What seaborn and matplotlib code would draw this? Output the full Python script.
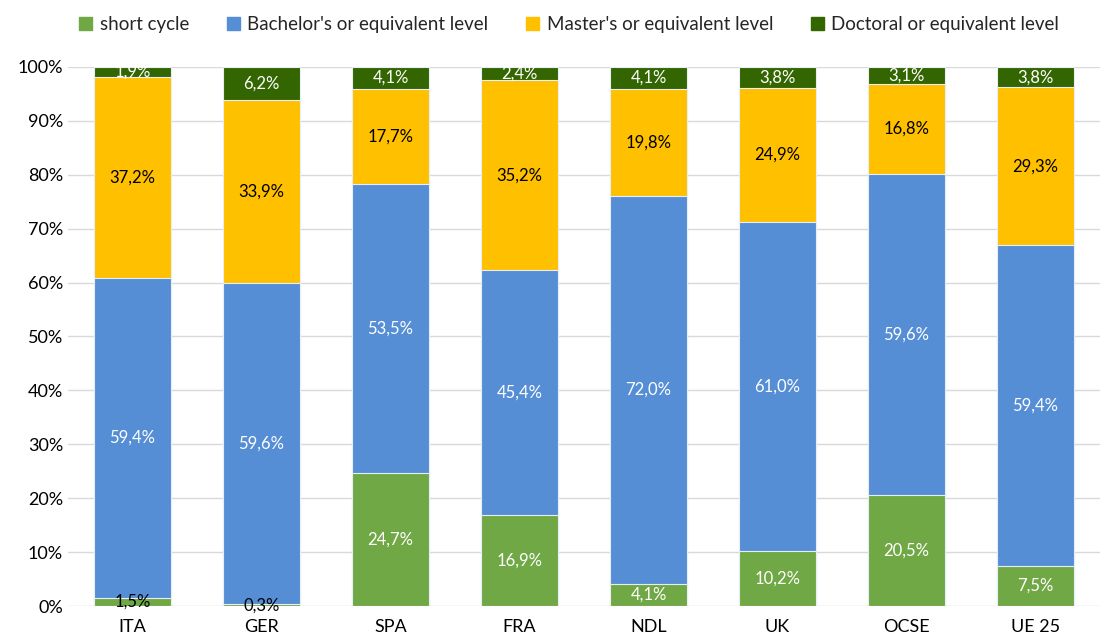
import numpy as np
import pandas as pd
import matplotlib
matplotlib.use("Agg")
import matplotlib.pyplot as plt
import seaborn as sns

countries = ["ITA", "GER", "SPA", "FRA", "NDL", "UK", "OCSE", "UE 25"]
levels = ["short cycle", "Bachelor's or equivalent level",
          "Master's or equivalent level", "Doctoral or equivalent level"]
short_cycle = [1.5, 0.3, 24.7, 16.9, 4.1, 10.2, 20.5, 7.5]
bachelor = [59.4, 59.6, 53.5, 45.4, 72.0, 61.0, 59.6, 59.4]
master = [37.2, 33.9, 17.7, 35.2, 19.8, 24.9, 16.8, 29.3]
doctoral = [1.9, 6.2, 4.1, 2.4, 4.1, 3.8, 3.1, 3.8]

colors = ["#70A845", "#558ED5", "#FFC000", "#336600"]
label_colors = ["white", "white", "black", "white"]

sns.set_theme(style="white")
plt.rcParams["font.family"] = ["Lato", "DejaVu Sans"]

vals = np.array([short_cycle, bachelor, master, doctoral]) / 100
df = pd.DataFrame(vals.T, columns=levels)
df["country"] = countries
cum = df[levels].cumsum(axis=1)

fig = plt.figure(figsize=(11.05, 6.41), dpi=100)
ax = fig.add_axes([0.0615, 0.0546, 0.934, 0.841])

# draw from the top layer down so each cumulative bar sits over the previous
for lvl, col in reversed(list(zip(levels, colors))):
    sns.barplot(x=df["country"], y=cum[lvl], color=col, width=0.6,
                saturation=1, edgecolor="#E8EEF7", linewidth=0.8,
                ax=ax, zorder=2)

for i in range(len(countries)):
    bottom = 0
    for j, lvl in enumerate(levels):
        v = df.loc[i, lvl]
        c = label_colors[j]
        if j == 0 and v < 0.02:
            c = "black"
        ax.text(i, bottom + v / 2, f"{v*100:.1f}%".replace(".", ","),
                ha="center", va="center", fontsize=12, color=c, zorder=3)
        bottom += v

ax.set_ylim(0, 1)
ax.set_xlim(-0.5, len(countries) - 0.5)
ax.set_yticks(np.arange(0, 1.01, 0.1))
ax.set_yticklabels([f"{int(round(t*100))}%" for t in np.arange(0, 1.01, 0.1)])
ax.yaxis.grid(True, color="#D9D9D9", linewidth=1, zorder=0)
ax.set_axisbelow(True)
ax.set_xlabel("")
ax.set_ylabel("")
ax.tick_params(axis="both", labelsize=13, length=0, colors="#000000")
ax.tick_params(axis="x", pad=9)
for s in ax.spines.values():
    s.set_visible(False)

handles = [plt.Rectangle((0, 0), 1, 1, color=c) for c in colors]
fig.legend(handles, levels, loc="center", bbox_to_anchor=(0.515, 0.962),
           ncol=4, frameon=False, fontsize=13.5, handlelength=0.7,
           handleheight=0.7, handletextpad=0.4, columnspacing=2.0)

fig.savefig("out.png", dpi=100)
